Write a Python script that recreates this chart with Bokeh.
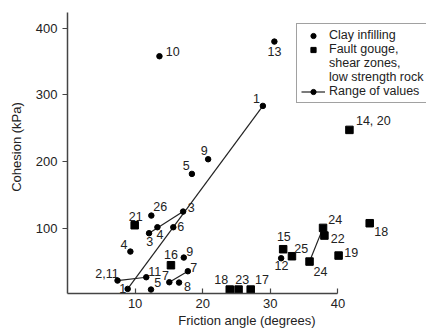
from bokeh.plotting import figure
from bokeh.models import ColumnDataSource, Range1d, FixedTicker, Legend, LegendItem
from bokeh.embed import file_html
from bokeh.resources import INLINE
from bokeh.core.properties import value

FONT = "Liberation Sans"
INK = "#222222"

# ---------------- data ----------------
x_ticks = [10, 20, 30, 40]
y_ticks = [100, 200, 300, 400]

# Clay infilling: single points
clay_x = [13.6, 30.6, 20.8, 18.4, 12.4, 13.3, 15.65, 9.3, 17.2, 12.35, 16.5, 31.6]
clay_y = [358, 380, 203.5, 181.5, 119, 101.5, 101.5, 65, 56, 8, 18.5, 55]
clay_labels = ["10", "13", "9", "5", "26", "4", "6", "4", "9", "5", "8", "12"]

# Clay infilling: ranges of values (start -> end)
clay_rng_x0 = [8.9, 7.4, 12.06, 15.06]
clay_rng_y0 = [9, 21.5, 92.5, 19]
clay_rng_x1 = [28.9, 11.65, 17.1, 17.8]
clay_rng_y1 = [283.5, 26.5, 125, 35.5]
clay_rng_lab0 = ["1", "2,11", "3", "7"]
clay_rng_lab1 = ["1", "11", "3", "7"]

# Fault gouge, shear zones, low strength rock: single points
gouge_x = [41.7, 9.94, 15.3, 24.0, 25.3, 27.1, 31.9, 33.2, 38.0, 40.1, 44.7]
gouge_y = [247.5, 104.5, 44.5, 8, 8, 8, 68.5, 58, 89, 59, 107.5]
gouge_labels = ["14, 20", "21", "16", "18", "23", "17", "15", "25", "22", "19", "18"]

# Fault gouge: range of values
gouge_rng_x0 = [35.8]
gouge_rng_y0 = [50]
gouge_rng_x1 = [37.8]
gouge_rng_y1 = [100.5]
gouge_rng_lab0 = ["24"]
gouge_rng_lab1 = ["24"]

# label placement (screen px offsets of label centre from its point)
clay_dx = [13.3, 0, -4, -5.7, 8.9, 2.5, 7.4, -6.3, 6, 6.7, 8.3, 0.3]
clay_dy = [-5, 10.4, -8.4, -8.7, -9.2, 7.5, -1.2, -6.8, -6.5, -7, 3.8, 7.3]
clay_rng_dx0 = [-4.9, -10.5, 0.8, -3.8]
clay_rng_dy0 = [-0.8, -6.7, 8.6, -7]
clay_rng_dx1 = [-6.5, 8.4, 8.2, 5.8]
clay_rng_dy1 = [-7.8, -6.2, -3.7, -3.7]
gouge_dx = [23.9, 1, 0, -8.5, 3.6, 11.3, 0.7, 9.3, 13.4, 12.7, 11.5]
gouge_dy = [-8.9, -8.5, -10.8, -9.7, -10.2, -10.2, -12.3, -7.7, 2.5, -3.3, 8.3]
gouge_rng_dx0 = [10.9]
gouge_rng_dy0 = [9.8]
gouge_rng_dx1 = [12.2]
gouge_rng_dy1 = [-8.1]

# ---------------- figure ----------------
p = figure(width=426, height=332, output_backend="svg", toolbar_location=None,
           x_range=Range1d(0, 53.1), y_range=Range1d(2.1, 441.6),
           min_border_left=67, min_border_right=0, min_border_top=0, min_border_bottom=39)
p.outline_line_color = None
p.xgrid.grid_line_color = None
p.ygrid.grid_line_color = None
p.background_fill_color = "white"
p.border_fill_color = "white"

for ax in (p.xaxis[0], p.yaxis[0]):
    ax.axis_line_color = "#444444"
    ax.axis_line_width = 1.5
    ax.major_tick_line_color = "#444444"
    ax.major_tick_line_width = 1.2
    ax.minor_tick_line_color = None
    ax.major_label_text_font = FONT
    ax.major_label_text_font_size = "13px"
    ax.major_label_text_color = INK
    ax.axis_label_text_font = FONT
    ax.axis_label_text_font_size = "13px"
    ax.axis_label_text_font_style = "normal"
    ax.axis_label_text_color = INK

p.xaxis.ticker = FixedTicker(ticks=x_ticks)
p.xaxis.bounds = (0, 40)
p.xaxis.major_tick_in = 5
p.xaxis.major_tick_out = 0
p.xaxis.major_label_standoff = 5
p.xaxis.axis_label = "Friction angle (degrees)"
p.xaxis.axis_label_standoff = 2

p.yaxis.ticker = FixedTicker(ticks=y_ticks)
p.yaxis.bounds = (0, 423)
p.yaxis.major_tick_in = 0
p.yaxis.major_tick_out = 5
p.yaxis.major_label_standoff = 5
p.yaxis.axis_label = "Cohesion (kPa)"
p.yaxis.axis_label_standoff = 9

# range lines
seg_src = ColumnDataSource(dict(x0=clay_rng_x0 + gouge_rng_x0, y0=clay_rng_y0 + gouge_rng_y0,
                                x1=clay_rng_x1 + gouge_rng_x1, y1=clay_rng_y1 + gouge_rng_y1))
seg_r = p.segment(x0="x0", y0="y0", x1="x1", y1="y1", source=seg_src,
                  line_color=INK, line_width=1.2)

# clay points and range ends
clay_r = p.scatter(clay_x, clay_y, marker="circle", size=5.5, color="black")
clay_end_r = p.scatter(clay_rng_x0 + clay_rng_x1, clay_rng_y0 + clay_rng_y1,
                       marker="circle", size=5.5, color="black")

# gouge points and range ends
gouge_r = p.scatter(gouge_x, gouge_y, marker="square", size=7.5, color="black")
p.scatter(gouge_rng_x0 + gouge_rng_x1, gouge_rng_y0 + gouge_rng_y1,
          marker="square", size=7.5, color="black")

# labels
lab_src = ColumnDataSource(dict(
    x=clay_x + clay_rng_x0 + clay_rng_x1 + gouge_x + gouge_rng_x0 + gouge_rng_x1,
    y=clay_y + clay_rng_y0 + clay_rng_y1 + gouge_y + gouge_rng_y0 + gouge_rng_y1,
    text=clay_labels + clay_rng_lab0 + clay_rng_lab1 + gouge_labels + gouge_rng_lab0 + gouge_rng_lab1,
    dx=clay_dx + clay_rng_dx0 + clay_rng_dx1 + gouge_dx + gouge_rng_dx0 + gouge_rng_dx1,
    dy=clay_dy + clay_rng_dy0 + clay_rng_dy1 + gouge_dy + gouge_rng_dy0 + gouge_rng_dy1,
))
p.text(x="x", y="y", text="text", x_offset="dx", y_offset="dy", source=lab_src,
       text_align="center", text_baseline="middle", text_font=value(FONT),
       text_font_size="12.5px", text_color=INK)

# legend
dummy = p.scatter([0], [0], marker="circle", size=1, fill_alpha=0, line_alpha=0)
legend = Legend(items=[
    LegendItem(label="Clay infilling", renderers=[clay_r]),
    LegendItem(label="Fault gouge,", renderers=[gouge_r]),
    LegendItem(label="shear zones,", renderers=[dummy]),
    LegendItem(label="low strength rock", renderers=[dummy]),
    LegendItem(label="Range of values", renderers=[seg_r, clay_end_r]),
], location=(229, 190))
legend.label_text_font = FONT
legend.label_text_font_size = "12.5px"
legend.label_text_color = INK
legend.glyph_height = 13
legend.label_height = 13
legend.glyph_width = 24
legend.spacing = 0
legend.padding = 4
legend.margin = 0
legend.label_standoff = 4
legend.border_line_color = "#444444"
legend.border_line_width = 1.2
legend.background_fill_color = "white"
legend.background_fill_alpha = 1
p.add_layout(legend)

open("out.html", "w").write(file_html(p, INLINE))
